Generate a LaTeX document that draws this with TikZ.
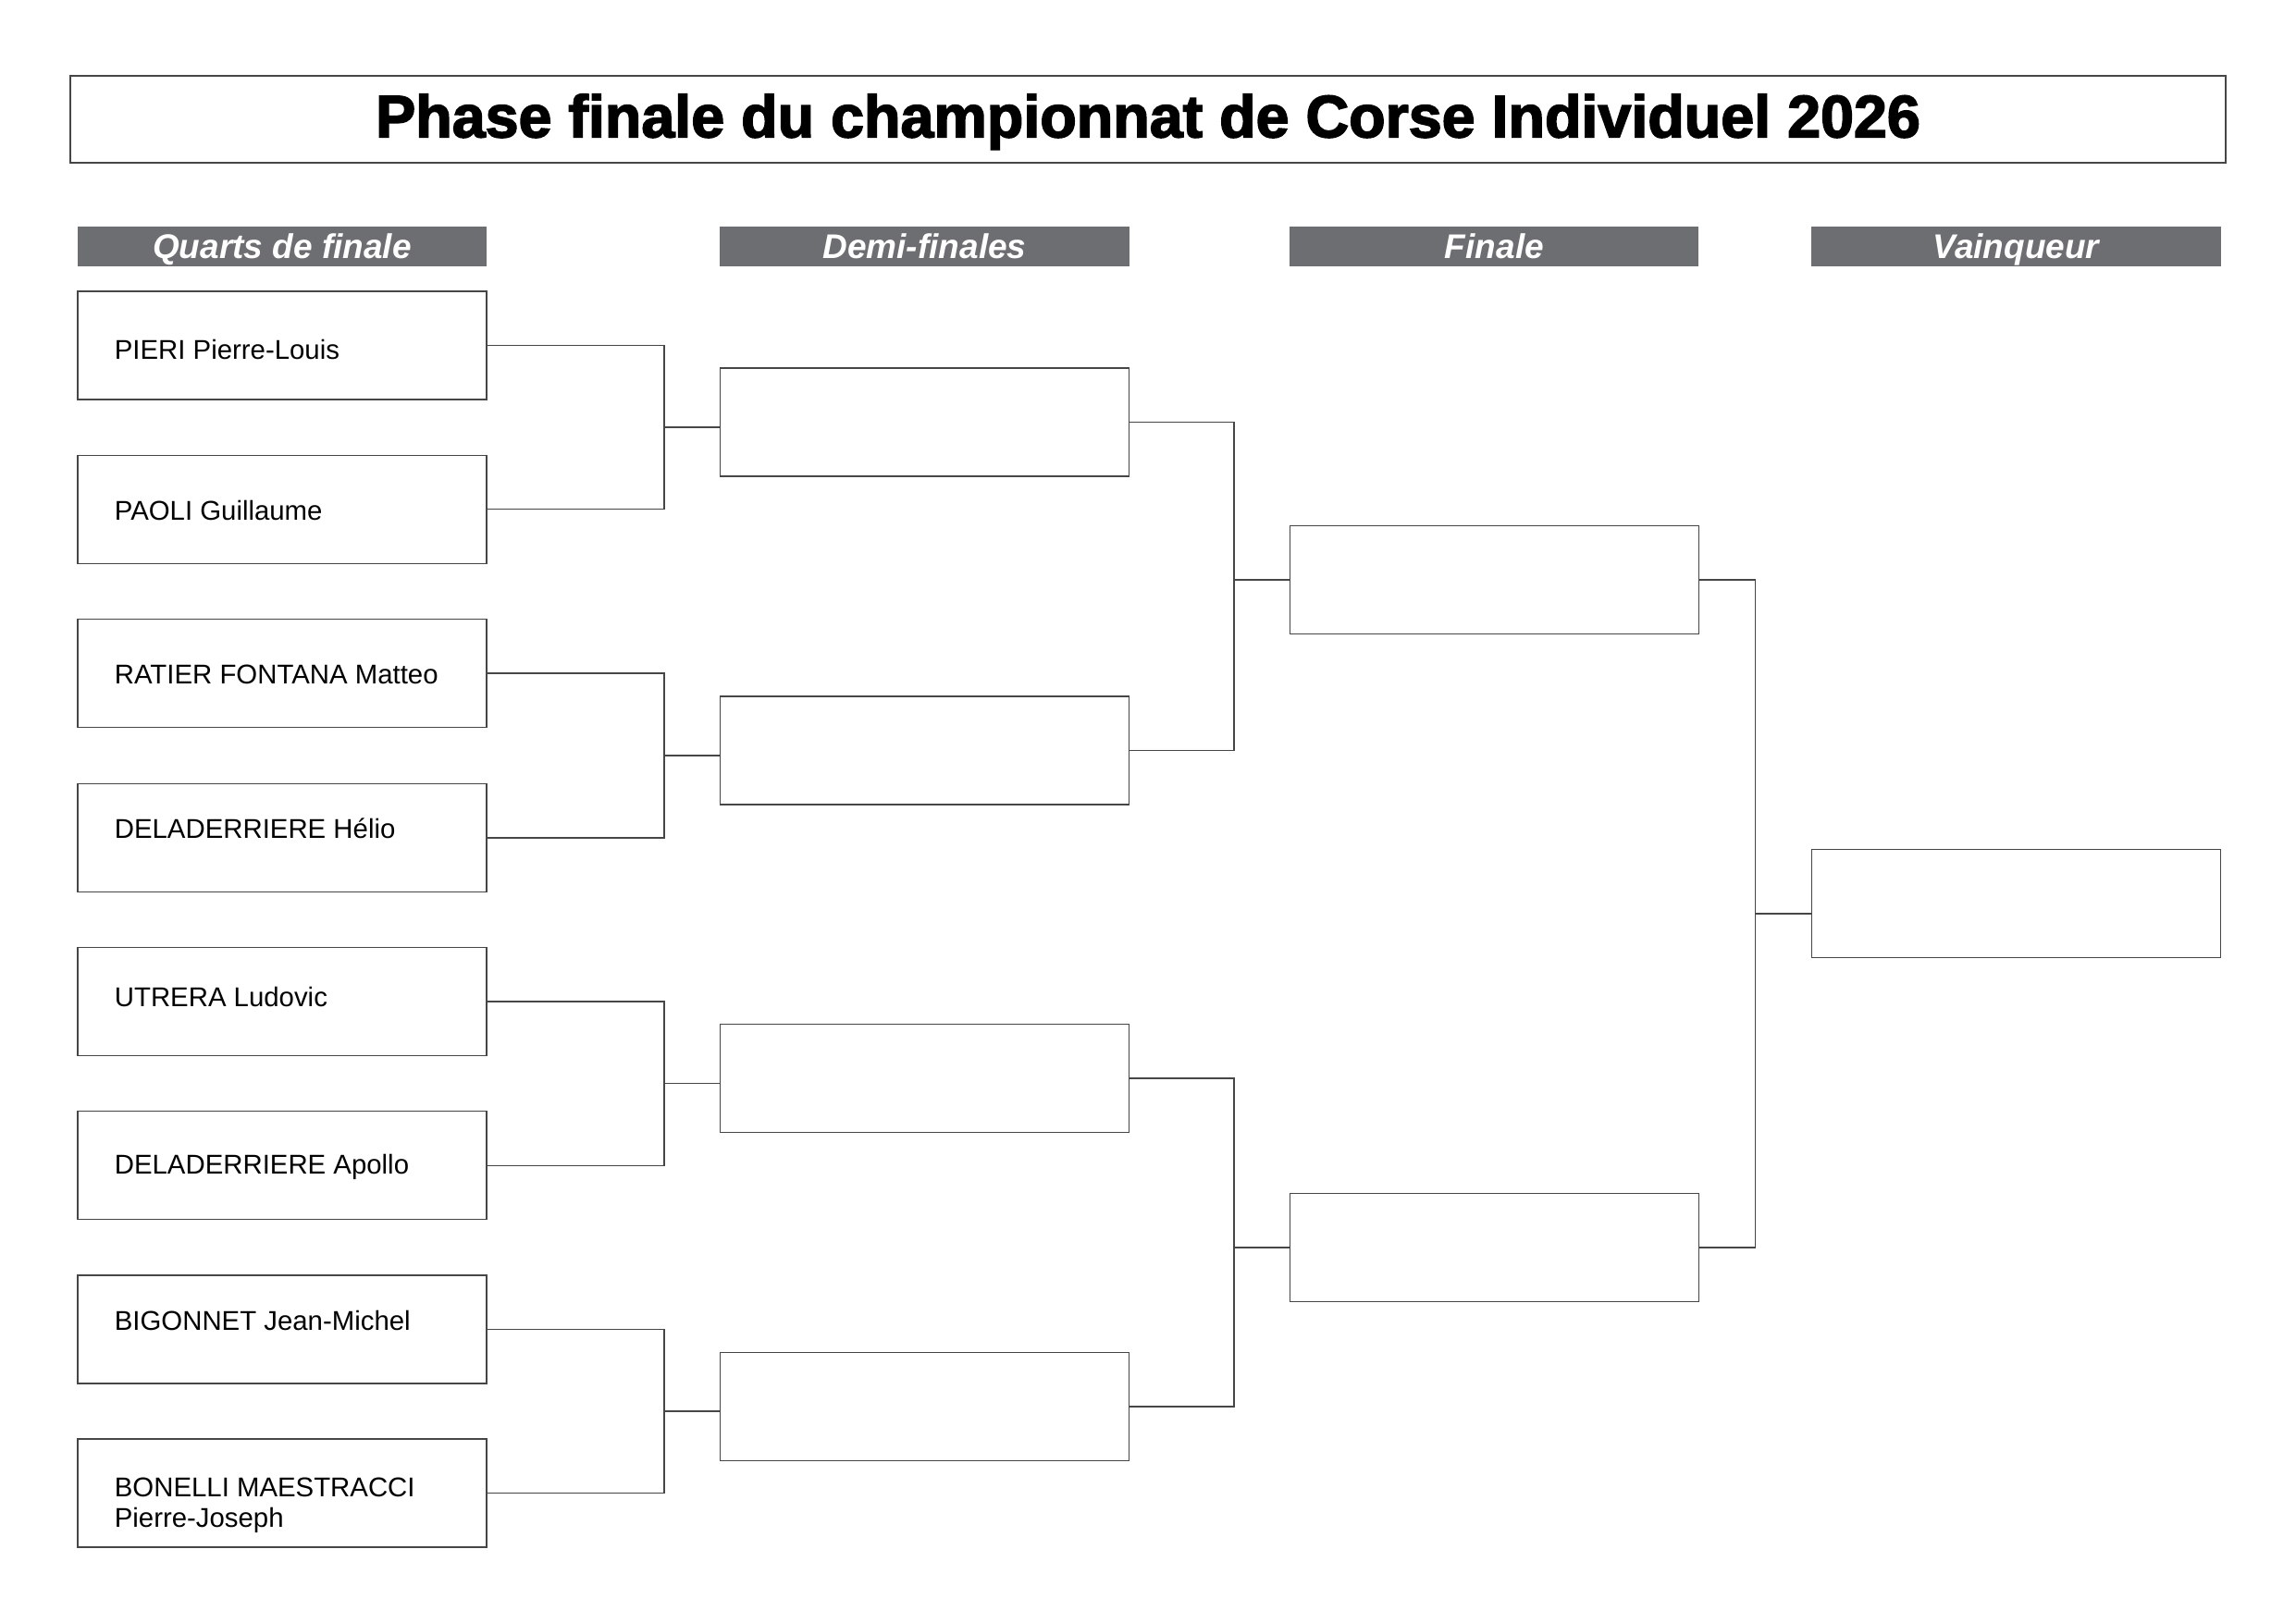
\documentclass[tikz,border=0pt]{standalone}
\usepackage{fontspec}
\setmainfont{Liberation Sans}
\newfontfamily\titlefont{Liberation Sans}[BoldFeatures={FakeBold=2.5}]
\usepackage{tikz}
\usetikzlibrary{calc}
\definecolor{bargrey}{RGB}{109,110,114}
\definecolor{linegrey}{RGB}{70,70,70}
\tikzset{
	cell/.style={draw=linegrey, line width=0.5pt, minimum width=5.29cm, minimum height=1.40cm, inner sep=0pt},
	pname/.style={anchor=base west, inner sep=0pt, align=left, font=\fontsize{10}{11.4}\selectfont},
	roundbar/.style={fill=bargrey, text=white, minimum width=5.29cm, minimum height=0.515cm, inner sep=0pt,
		text height=9.1pt, text depth=0pt, font=\fontsize{12.6}{14}\selectfont\bfseries\itshape},
	link/.style={draw=linegrey, line width=0.5pt}
}

\begin{document}
\begin{tikzpicture}
			%%%%% START %%%%%
			\useasboundingbox (0, 0) rectangle (29.7, -21);
			
			\node[draw=linegrey, line width=0.6pt, minimum width=27.88cm, minimum height=1.125cm, inner sep=0pt,
				text height=13.4pt, text depth=0pt,
				font=\titlefont\fontsize{22}{26}\selectfont\bfseries] (title) at (14.85, -1.54)
				{Phase finale du championnat de Corse Individuel 2026};
			
			\node[roundbar] (hquarts) at (3.65, -3.19) {Quarts de finale};
			\node[roundbar] (hdemi) at (11.96, -3.19) {Demi-finales};
			\node[roundbar] (hfinale) at (19.33, -3.19) {Finale};
			\node[roundbar] (hvainq) at (26.08, -3.19) {Vainqueur};
			
			% quarts de finale
			\node[cell] (q1) at (3.65, -4.47) {};
			\node[cell] (q2) at (3.65, -6.59) {};
			\node[cell] (q3) at (3.65, -8.71) {};
			\node[cell] (q4) at (3.65, -10.84) {};
			\node[cell] (q5) at (3.65, -12.96) {};
			\node[cell] (q6) at (3.65, -15.08) {};
			\node[cell] (q7) at (3.65, -17.20) {};
			\node[cell] (q8) at (3.65, -19.32) {};
			
			\node[pname] (n1) at (1.475, -4.647) {PIERI Pierre-Louis};
			\node[pname] (n2) at (1.475, -6.733) {PAOLI Guillaume};
			\node[pname] (n3) at (1.475, -8.843) {RATIER FONTANA Matteo};
			\node[pname] (n4) at (1.475, -10.849) {DELADERRIERE Hélio};
			\node[pname] (n5) at (1.475, -13.023) {UTRERA Ludovic};
			\node[pname] (n6) at (1.475, -15.189) {DELADERRIERE Apollo};
			\node[pname] (n7) at (1.475, -17.211) {BIGONNET Jean-Michel};
			% base = last line here
			\node[pname] (n8) at (1.475, -19.764) {BONELLI MAESTRACCI\\Pierre-Joseph};
			
			% demi-finales, finale, vainqueur
			\node[cell] (d1) at (11.96, -5.46) {};
			\node[cell] (d2) at (11.96, -9.71) {};
			\node[cell] (d3) at (11.96, -13.95) {};
			\node[cell] (d4) at (11.96, -18.20) {};
			
			\node[cell] (f1) at (19.33, -7.50) {};
			\node[cell] (f2) at (19.33, -16.14) {};
			
			\node[cell] (v) at (26.08, -11.69) {};
			
			% quarts -> demi
			\coordinate (jq1) at ($(q1.east)!0.5!(q2.east) + (2.29, 0)$);
			\coordinate (jq2) at ($(q3.east)!0.5!(q4.east) + (2.29, 0)$);
			\coordinate (jq3) at ($(q5.east)!0.5!(q6.east) + (2.29, 0)$);
			\coordinate (jq4) at ($(q7.east)!0.5!(q8.east) + (2.29, 0)$);
			\draw[link] (q1.east) -| (jq1) |- (q2.east);
			\draw[link] (jq1) -- (jq1 -| d1.west);
			\draw[link] (q3.east) -| (jq2) |- (q4.east);
			\draw[link] (jq2) -- (jq2 -| d2.west);
			\draw[link] (q5.east) -| (jq3) |- (q6.east);
			\draw[link] (jq3) -- (jq3 -| d3.west);
			\draw[link] (q7.east) -| (jq4) |- (q8.east);
			\draw[link] (jq4) -- (jq4 -| d4.west);
			
			% demi -> finale
			\coordinate (jd1) at ($(d1.east)!0.5!(d2.east) + (1.35, 0)$);
			\coordinate (jd2) at ($(d3.east)!0.5!(d4.east) + (1.35, 0)$);
			\draw[link] (d1.east) -| (jd1) |- (d2.east);
			\draw[link] (jd1 |- f1.west) -- (f1.west);
			\draw[link] (d3.east) -| (jd2) |- (d4.east);
			\draw[link] (jd2 |- f2.west) -- (f2.west);
			
			% finale -> vainqueur
			\coordinate (jf) at ($(f1.east)!0.5!(f2.east) + (0.72, 0)$);
			\draw[link] (f1.east) -| (jf) |- (f2.east);
			\draw[link] (jf) -- (jf -| v.west);
			
			%%%%% END %%%%%
		\end{tikzpicture}
\end{document}
